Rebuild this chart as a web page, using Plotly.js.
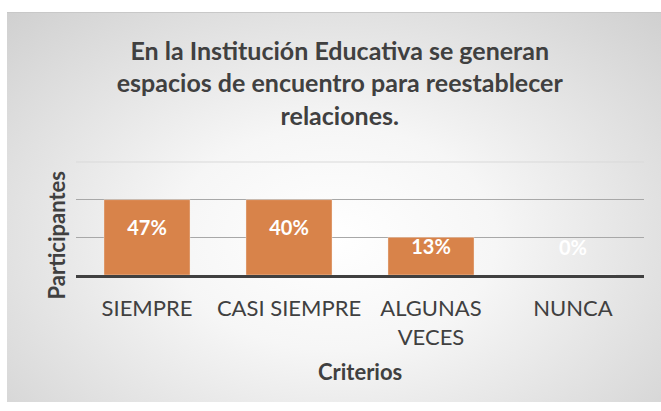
<!DOCTYPE html>
<html>
<head>
<meta charset="utf-8">
<script src="https://cdn.plot.ly/plotly-3.0.1.min.js"></script>
<style>
  html, body { margin: 0; padding: 0; background: #ffffff; }
  #wrap { position: relative; width: 661px; height: 411px; overflow: hidden; }
  #bg {
    position: absolute; left: 7px; top: 12px; width: 654px; height: 389px;
    background: radial-gradient(ellipse farthest-corner at 50% 58%, #ffffff 0%, #f6f6f6 35%, #d0d0d0 100%);
    border-top: 1px solid #c8c8c8;
  }
  #chart { position: absolute; left: 0; top: 0; width: 661px; height: 411px; }
</style>
</head>
<body>
<div id="wrap">
  <div id="bg"></div>
  <div id="chart"></div>
</div>
<script>
// Categories (x axis)
const criterios = ['SIEMPRE', 'CASI SIEMPRE', 'ALGUNAS<br>VECES', 'NUNCA'];
// Bar heights as drawn in the picture (gridline units)
const alturas = [2, 2, 1, 0];
// Data labels shown on the bars
const etiquetas = ['47%', '40%', '13%', '0%'];
// Gridline tick values
const lineasGuia = [1, 2];

const FONT = 'Lato, "Open Sans", sans-serif';
const GRIS = '#404040';

const labelY = alturas.map(v => Math.max(v / 2 + 0.2, 0.66));

const traces = [
  {
    type: 'bar',
    x: criterios,
    y: alturas,
    marker: { color: '#D8834A', line: { color: 'rgba(255,255,255,0.35)', width: 1 } },
    hoverinfo: 'skip',
    showlegend: false
  },
  {
    type: 'scatter',
    mode: 'text',
    x: criterios,
    y: labelY,
    text: etiquetas,
    textposition: 'middle center',
    textfont: { family: FONT, size: 20, color: '#ffffff', weight: 'bold' },
    cliponaxis: false,
    hoverinfo: 'skip',
    showlegend: false
  }
];

const layout = {
  width: 661,
  height: 411,
  margin: { l: 76, r: 17, t: 162, b: 136, pad: 0 },
  paper_bgcolor: 'rgba(0,0,0,0)',
  plot_bgcolor: 'rgba(0,0,0,0)',
  bargap: 0.394,
  showlegend: false,
  title: {
    text: 'En la Institución Educativa se generan<br>espacios de encuentro para reestablecer<br>relaciones.',
    font: { family: FONT, size: 25, color: GRIS, weight: 'bold' },
    x: 0.514, xref: 'container', xanchor: 'center',
    y: 0.855, yref: 'container', yanchor: 'top'
  },
  xaxis: {
    type: 'category',
    showline: true,
    linecolor: GRIS,
    linewidth: 3,
    ticks: '',
    showgrid: false,
    zeroline: false,
    ticklabelstandoff: 12,
    tickfont: { family: FONT, size: 22, color: GRIS },
    fixedrange: true
  },
  yaxis: {
    range: [0, 3],
    tickvals: lineasGuia,
    showticklabels: false,
    showgrid: true,
    gridcolor: '#a8a8a8',
    gridwidth: 1,
    zeroline: false,
    showline: false,
    ticks: '',
    fixedrange: true
  },
  shapes: [
    { type: 'line', xref: 'paper', yref: 'paper', x0: 0, x1: 1, y0: 1, y1: 1,
      line: { color: '#d9d9d9', width: 1 } }
  ],
  annotations: [
    {
      text: 'Participantes', textangle: -90, showarrow: false,
      xref: 'paper', yref: 'paper', x: -0.0326, y: 0.354,
      xanchor: 'center', yanchor: 'middle',
      font: { family: FONT, size: 22, color: GRIS, weight: 'bold' }
    },
    {
      text: 'Criterios', showarrow: false,
      xref: 'paper', yref: 'paper', x: 0.5, y: -0.858,
      xanchor: 'center', yanchor: 'middle',
      font: { family: FONT, size: 22, color: GRIS, weight: 'bold' }
    }
  ]
};

Plotly.newPlot('chart', traces, layout, { displayModeBar: false, staticPlot: true });
</script>
</body>
</html>
